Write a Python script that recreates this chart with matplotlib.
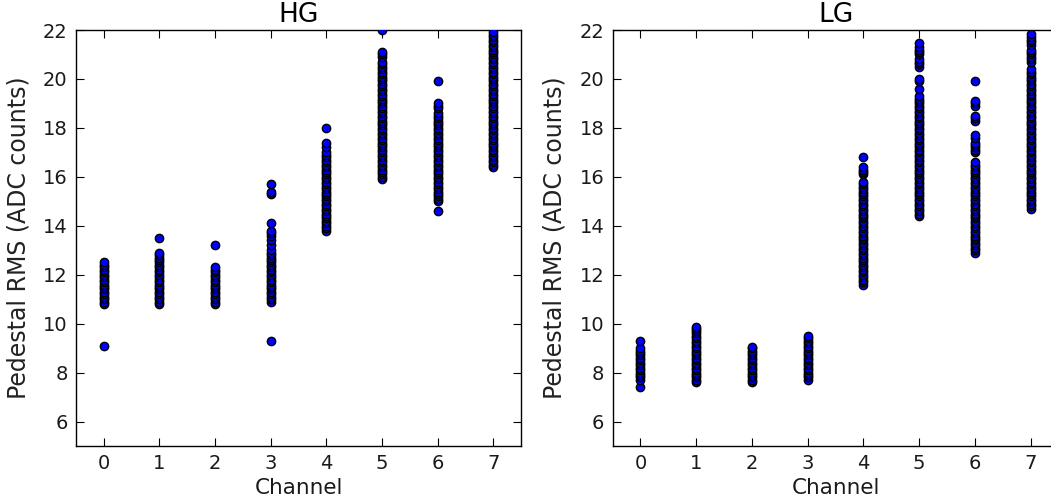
#!/usr/bin/env python3
"""Pedestal RMS per channel, HG and LG gains."""

import matplotlib

matplotlib.use("Agg")
import matplotlib.pyplot as plt

plt.rcParams["font.family"] = "DejaVu Sans"

CHANNELS = [0, 1, 2, 3, 4, 5, 6, 7]

# pedestal RMS values (ADC counts) read per channel, high gain
HG_CH0 = [9.1, 10.8, 10.9, 11.0, 11.1, 11.2, 11.3, 11.4, 11.5, 11.6, 11.7, 11.8, 11.9, 12.0, 12.1, 12.2,
          12.3, 12.4, 12.5]
HG_CH1 = [10.8, 10.9, 11.0, 11.1, 11.2, 11.3, 11.4, 11.5, 11.6, 11.7, 11.8, 11.9, 12.0, 12.1, 12.2, 12.3,
          12.4, 12.5, 12.6, 12.7, 12.8, 12.9, 13.5]
HG_CH2 = [10.8, 10.9, 11.0, 11.1, 11.2, 11.3, 11.4, 11.5, 11.6, 11.7, 11.8, 11.9, 12.0, 12.1, 12.2, 12.3, 13.2]
HG_CH3 = [9.3, 10.9, 11.0, 11.1, 11.2, 11.3, 11.4, 11.5, 11.6, 11.7, 11.8, 11.9, 12.0, 12.1, 12.2, 12.3,
          12.4, 12.5, 12.6, 12.7, 12.8, 12.9, 13.0, 13.2, 13.4, 13.6, 13.7, 13.8, 14.1, 15.3, 15.4, 15.7]
HG_CH4 = [13.8, 13.9, 14.0, 14.1, 14.2, 14.3, 14.4, 14.5, 14.6, 14.7, 14.8, 14.9, 15.0, 15.1, 15.2, 15.3,
          15.4, 15.5, 15.6, 15.7, 15.8, 15.9, 16.0, 16.1, 16.2, 16.3, 16.4, 16.5, 16.6, 16.7, 16.8, 16.9,
          17.0, 17.2, 17.4, 18.0]
HG_CH5 = [15.9, 16.0, 16.1, 16.2, 16.3, 16.4, 16.5, 16.6, 16.7, 16.8, 16.9, 17.0, 17.1, 17.2, 17.3, 17.4,
          17.5, 17.6, 17.7, 17.8, 17.9, 18.0, 18.1, 18.2, 18.3, 18.4, 18.5, 18.6, 18.7, 18.8, 18.9, 19.0,
          19.1, 19.2, 19.3, 19.4, 19.5, 19.6, 19.7, 19.8, 19.9, 20.0, 20.1, 20.2, 20.3, 20.4, 20.5, 20.6,
          20.7, 20.9, 21.0, 21.1, 22.0]
HG_CH6 = [14.6, 15.0, 15.1, 15.2, 15.3, 15.4, 15.5, 15.6, 15.7, 15.8, 15.9, 16.0, 16.1, 16.2, 16.3, 16.4,
          16.5, 16.6, 16.7, 16.8, 16.9, 17.0, 17.1, 17.2, 17.3, 17.4, 17.5, 17.6, 17.7, 17.8, 17.9, 18.0,
          18.1, 18.2, 18.3, 18.4, 18.5, 18.6, 18.8, 18.9, 19.0, 19.9]
HG_CH7 = [16.4, 16.5, 16.6, 16.7, 16.8, 16.9, 17.0, 17.1, 17.2, 17.3, 17.4, 17.5, 17.6, 17.7, 17.8, 17.9,
          18.0, 18.1, 18.2, 18.3, 18.4, 18.5, 18.6, 18.7, 18.8, 18.9, 19.0, 19.1, 19.2, 19.3, 19.4, 19.5,
          19.6, 19.7, 19.8, 19.9, 20.0, 20.1, 20.2, 20.3, 20.4, 20.5, 20.6, 20.7, 20.8, 20.9, 21.0, 21.1,
          21.2, 21.3, 21.4, 21.5, 21.6, 21.7, 21.8, 21.9]

# low gain
LG_CH0 = [7.4, 7.7, 7.8, 7.9, 8.0, 8.1, 8.2, 8.3, 8.4, 8.5, 8.6, 8.7, 8.8, 8.9, 9.0, 9.3]
LG_CH1 = [7.6, 7.7, 7.8, 7.9, 8.0, 8.1, 8.2, 8.3, 8.4, 8.5, 8.6, 8.7, 8.8, 8.9, 9.0, 9.1, 9.2, 9.3, 9.4,
          9.5, 9.6, 9.7, 9.8, 9.85]
LG_CH2 = [7.6, 7.7, 7.8, 7.9, 8.0, 8.1, 8.2, 8.3, 8.4, 8.5, 8.6, 8.7, 8.8, 8.9, 9.0, 9.05]
LG_CH3 = [7.7, 7.8, 7.9, 8.0, 8.1, 8.2, 8.3, 8.4, 8.5, 8.6, 8.7, 8.8, 8.9, 9.0, 9.1, 9.2, 9.3, 9.4, 9.5]
LG_CH4 = [11.6, 11.7, 11.8, 11.9, 12.0, 12.1, 12.2, 12.3, 12.4, 12.5, 12.6, 12.7, 12.8, 12.9, 13.0, 13.1,
          13.2, 13.3, 13.4, 13.5, 13.6, 13.7, 13.8, 13.9, 14.0, 14.1, 14.2, 14.3, 14.4, 14.5, 14.6, 14.7,
          14.8, 14.9, 15.0, 15.1, 15.2, 15.3, 15.4, 15.5, 15.6, 15.7, 15.8, 16.1, 16.2, 16.3, 16.4, 16.8]
LG_CH5 = [14.4, 14.5, 14.6, 14.7, 14.8, 14.9, 15.0, 15.1, 15.2, 15.3, 15.4, 15.5, 15.6, 15.7, 15.8, 15.9,
          16.0, 16.1, 16.2, 16.3, 16.4, 16.5, 16.6, 16.7, 16.8, 16.9, 17.0, 17.1, 17.2, 17.3, 17.4, 17.5,
          17.6, 17.7, 17.8, 17.9, 18.0, 18.1, 18.2, 18.3, 18.4, 18.5, 18.6, 18.7, 18.8, 18.9, 19.0, 19.1,
          19.2, 19.3, 19.6, 19.9, 20.0, 20.5, 20.6, 20.7, 20.8, 21.0, 21.1, 21.2, 21.3, 21.45]
LG_CH6 = [12.9, 13.0, 13.1, 13.2, 13.3, 13.4, 13.5, 13.6, 13.7, 13.8, 13.9, 14.0, 14.1, 14.2, 14.3, 14.4,
          14.5, 14.6, 14.7, 14.8, 14.9, 15.0, 15.1, 15.2, 15.3, 15.4, 15.5, 15.6, 15.7, 15.8, 15.9, 16.0,
          16.1, 16.2, 16.3, 16.4, 16.5, 16.6, 17.0, 17.1, 17.2, 17.3, 17.4, 17.6, 17.7, 18.3, 18.4, 18.5,
          18.9, 19.0, 19.1, 19.9]
LG_CH7 = [14.7, 14.8, 14.9, 15.0, 15.1, 15.2, 15.3, 15.4, 15.5, 15.6, 15.7, 15.8, 15.9, 16.0, 16.1, 16.2,
          16.3, 16.4, 16.5, 16.6, 16.7, 16.8, 16.9, 17.0, 17.1, 17.2, 17.3, 17.4, 17.5, 17.6, 17.7, 17.8,
          17.9, 18.0, 18.1, 18.2, 18.3, 18.4, 18.5, 18.6, 18.7, 18.8, 18.9, 19.0, 19.1, 19.2, 19.3, 19.4,
          19.5, 19.6, 19.7, 19.8, 19.9, 20.0, 20.1, 20.2, 20.3, 20.4, 20.7, 20.8, 20.9, 21.0, 21.1, 21.2,
          21.4, 21.5, 21.6, 21.7, 21.85]

HG = [HG_CH0, HG_CH1, HG_CH2, HG_CH3, HG_CH4, HG_CH5, HG_CH6, HG_CH7]
LG = [LG_CH0, LG_CH1, LG_CH2, LG_CH3, LG_CH4, LG_CH5, LG_CH6, LG_CH7]

FS = 14


def panel(ax, per_channel, title):
    for ch, vals in zip(CHANNELS, per_channel):
        ax.scatter([ch] * len(vals), vals, s=36, c="#0000ff", edgecolors="black",
                   linewidths=1.0, zorder=3)
    ax.set_xlim(-0.5, 7.5)
    ax.set_ylim(5, 22)
    ax.set_xticks(CHANNELS)
    ax.set_yticks(range(6, 23, 2))
    ax.tick_params(direction="in", length=6, width=0.8, labelsize=FS, pad=6,
                   top=True, right=True, colors="black", labelcolor="#1a1a1a")
    ax.set_xlabel("Channel", fontsize=15.5, labelpad=3, color="#1a1a1a")
    ax.set_ylabel("Pedestal RMS (ADC counts)", fontsize=17, color="#222222", labelpad=9)
    ax.set_title(title, fontsize=19, pad=6)
    for sp in ax.spines.values():
        sp.set_linewidth(1.0)


def main():
    fig = plt.figure(figsize=(10.51, 5.03), dpi=100, facecolor="white")
    ax_hg = fig.add_axes([0.0723, 0.1133, 0.4234, 0.827])
    ax_lg = fig.add_axes([0.5828, 0.1133, 0.4244, 0.827])
    panel(ax_hg, HG, "HG")
    panel(ax_lg, LG, "LG")
    fig.savefig("out.png", dpi=100, facecolor="white")
    plt.close(fig)


if __name__ == "__main__":
    main()
